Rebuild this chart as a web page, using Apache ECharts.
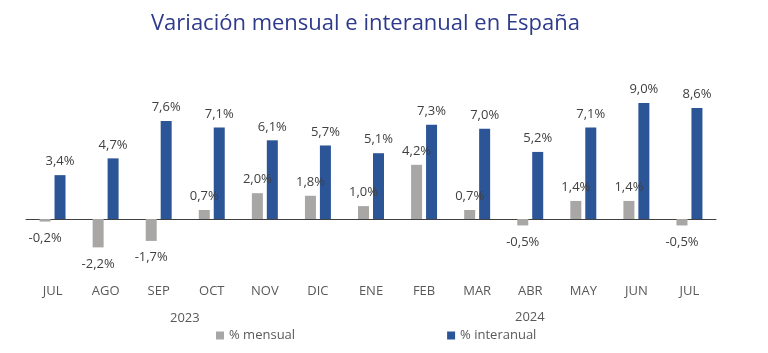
<!DOCTYPE html>
<html>
<head>
<meta charset="utf-8">
<script src="https://cdn.jsdelivr.net/npm/echarts@6/dist/echarts.min.js"></script>
<style>
html,body{margin:0;padding:0;background:#fff;}
#chart{width:768px;height:353px;}
</style>
</head>
<body>
<div id="chart"></div>
<script>
var categories = ['JUL','AGO','SEP','OCT','NOV','DIC','ENE','FEB','MAR','ABR','MAY','JUN','JUL'];
var mensual = [-0.2, -2.2, -1.7, 0.7, 2.0, 1.8, 1.0, 4.2, 0.7, -0.5, 1.4, 1.4, -0.5];
var interanual = [3.4, 4.7, 7.6, 7.1, 6.1, 5.7, 5.1, 7.3, 7.0, 5.2, 7.1, 9.0, 8.6];
var years = ['2023', '2024'];
var seriesNames = ['% mensual', '% interanual'];

var FONT = 'Open Sans';
function fmt(v){ return v.toFixed(1).replace('.', ',') + '%'; }
function items(arr){
  return arr.map(function(v){
    return {value: v, label: {position: v < 0 ? 'bottom' : 'top', distance: v < 0 ? 10 : 7}};
  });
}
var labelStyle = {show: true, formatter: function(p){ return fmt(p.value); }, color: '#404040', fontSize: 13, fontFamily: FONT};

var chart = echarts.init(document.getElementById('chart'));
chart.setOption({
  animation: false,
  title: {
    text: 'Variación mensual e interanual en España',
    left: 146, top: 8,
    textStyle: {color: '#2E3A8C', fontSize: 22, fontWeight: 'normal', fontFamily: FONT}
  },
  legend: {
    data: seriesNames,
    left: 211, top: 324,
    itemWidth: 8, itemHeight: 8, itemGap: 152,
    icon: 'rect',
    textStyle: {color: '#595959', fontSize: 13, fontFamily: FONT}
  },
  grid: {left: 26, right: 52, top: 90, height: 193.5},
  xAxis: [
    {type: 'category', data: categories, position: 'bottom',
     axisLine: {onZero: true, lineStyle: {color: '#404040', width: 1}},
     axisTick: {show: false}, axisLabel: {show: false}},
    {type: 'category', data: categories, position: 'bottom',
     axisLine: {show: false, onZero: false}, axisTick: {show: false},
     axisLabel: {color: '#595959', fontSize: 13, fontFamily: FONT, margin: 1}}
  ],
  yAxis: {type: 'value', min: -5, max: 10, show: false, splitLine: {show: false}},
  graphic: [
    {type: 'text', left: 170, top: 312, style: {text: years[0], fill: '#595959', font: '13px "Open Sans"'}},
    {type: 'text', left: 515, top: 311, style: {text: years[1], fill: '#595959', font: '13px "Open Sans"'}}
  ],
  series: [
    {name: seriesNames[0], type: 'bar', data: items(mensual), barWidth: 11, barGap: '36%',
     itemStyle: {color: '#A9A6A6'}, label: labelStyle},
    {name: seriesNames[1], type: 'bar', data: items(interanual), barWidth: 11,
     itemStyle: {color: '#2B5597'}, label: labelStyle}
  ]
});
</script>
</body>
</html>
